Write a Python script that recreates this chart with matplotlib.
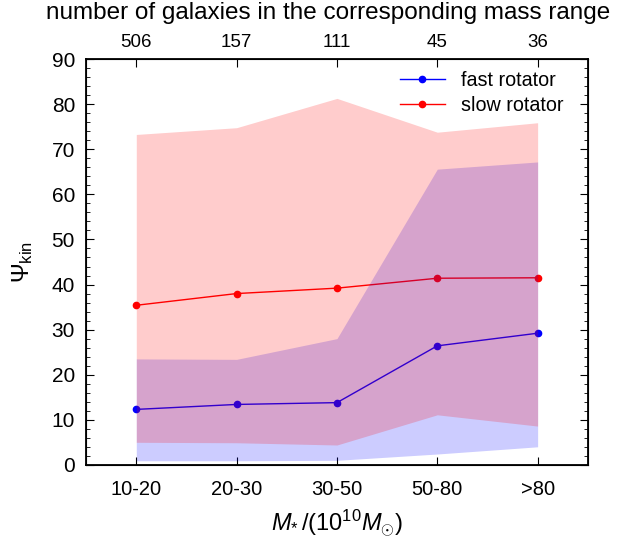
import numpy as np
import matplotlib
matplotlib.use('Agg')
from matplotlib import pyplot as plt
from matplotlib.ticker import MultipleLocator

plt.rcParams['font.family'] = ['Liberation Sans', 'DejaVu Sans']
plt.rcParams['mathtext.fontset'] = 'custom'
plt.rcParams['mathtext.rm'] = 'Liberation Sans'
plt.rcParams['mathtext.it'] = 'Liberation Sans:italic'

# Data
mass_bins = ['10-20', '20-30', '30-50', '50-80', '>80']
n_galaxies = ['506', '157', '111', '45', '36']

fast_mean = [12.3, 13.4, 13.8, 26.4, 29.2]
fast_low = [0.9, 0.9, 1.0, 2.4, 4.0]
fast_high = [23.5, 23.4, 28.0, 65.6, 67.2]

slow_mean = [35.4, 38.0, 39.2, 41.4, 41.5]
slow_low = [5.0, 4.9, 4.4, 11.1, 8.6]
slow_high = [73.3, 74.8, 81.3, 73.8, 75.9]

x = np.arange(1, len(mass_bins) + 1)

fig = plt.figure(figsize=(6.24, 5.38), dpi=100)
ax = fig.add_axes([0.138, 0.136, 0.804, 0.754])

ax.plot(x, fast_mean, '-o', color='blue', lw=1, ms=4.5, label='fast rotator', zorder=1)
ax.plot(x, slow_mean, '-o', color='red', lw=1, ms=4.5, label='slow rotator', zorder=1)
ax.fill_between(x, fast_low, fast_high, color='blue', alpha=0.2, lw=0, zorder=2)
ax.fill_between(x, slow_low, slow_high, color='red', alpha=0.2, lw=0, zorder=3)

ax.set_xlim(0.5, 5.5)
ax.set_ylim(0, 90)
ax.set_xticks(x)
ax.set_xticklabels(mass_bins, fontsize=14.5)
ax.yaxis.set_major_locator(MultipleLocator(10))
ax.yaxis.set_minor_locator(MultipleLocator(2))
ax.tick_params(axis='y', which='both', direction='in', right=True, labelsize=15, pad=8)
ax.tick_params(axis='y', which='major', length=6)
ax.tick_params(axis='y', which='minor', length=3)
ax.tick_params(axis='x', direction='in', length=6, top=False, pad=11)
for s in ax.spines.values():
    s.set_linewidth(1.3)

ax.set_xlabel(r'$M_{*}\,/(10^{10}M_{\odot})$', fontsize=17, labelpad=6)
ax.set_ylabel(r'$\Psi_{\rm kin}$', fontsize=17, labelpad=12)

top = ax.twiny()
top.set_xlim(ax.get_xlim())
top.set_xticks(x)
top.set_xticklabels(n_galaxies, fontsize=13.5)
top.tick_params(axis='x', direction='in', length=6, pad=6)
top.set_xlabel('number of galaxies in the corresponding mass range', fontsize=17.5, labelpad=11)
top.xaxis.label.set_x(0.482)

leg = ax.legend(loc='upper right', bbox_to_anchor=(0.975, 1.0), frameon=False,
                fontsize=14.2, handlelength=2.3, borderaxespad=0.2, labelspacing=0.3)

fig.savefig('out.png', dpi=100)
